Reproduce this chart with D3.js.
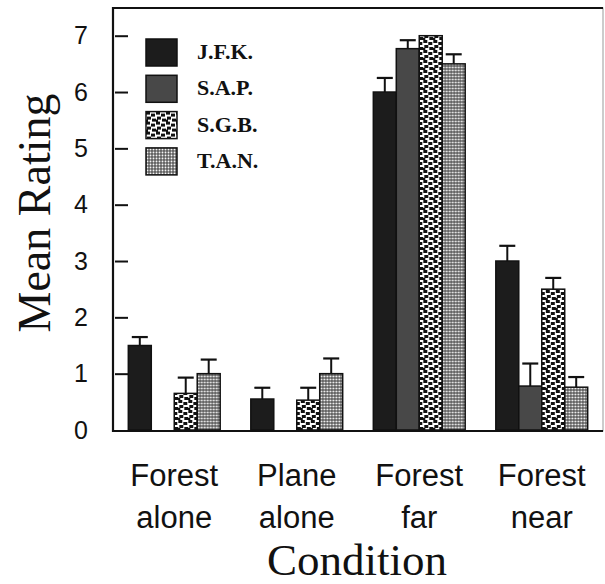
<!DOCTYPE html>
<html>
<head>
<meta charset="utf-8">
<script src="https://cdn.jsdelivr.net/npm/d3@7"></script>
<style>
  body { margin: 0; background: #fff; }
</style>
</head>
<body>
<script>
// data
let conditions = [['Forest', 'alone'], ['Plane', 'alone'], ['Forest', 'far'], ['Forest', 'near']];
let observers = ['J.F.K.', 'S.A.P.', 'S.G.B.', 'T.A.N.'];
let means = {
  'J.F.K.': [1.5, 0.55, 6.0, 3.0],
  'S.A.P.': [0, 0, 6.77, 0.78],
  'S.G.B.': [0.65, 0.53, 7.0, 2.5],
  'T.A.N.': [1.0, 1.0, 6.5, 0.76]
};
let errors = {
  'J.F.K.': [0.15, 0.2, 0.25, 0.27],
  'S.A.P.': [0, 0, 0.15, 0.4],
  'S.G.B.': [0.28, 0.22, 0, 0.2],
  'T.A.N.': [0.25, 0.27, 0.17, 0.18]
};
let yticks = [0, 1, 2, 3, 4, 5, 6, 7];

let width = 605, height = 584;
let margin = { top: 8, right: 2, bottom: 153, left: 113 };

let svg = d3.select('body').append('svg')
  .attr('width', width)
  .attr('height', height);

// hatch-like fills
let defs = svg.append('defs');
let p1 = defs.append('pattern').attr('id', 'sgb')
  .attr('patternUnits', 'userSpaceOnUse').attr('width', 10).attr('height', 10);
p1.append('rect').attr('width', 10).attr('height', 10).attr('fill', '#fff');
[[0, 0, 4, 3], [5, 2, 4, 3], [1, 5, 4, 3], [6, 7, 4, 3], [0, 8, 2, 2]].forEach(r => {
  p1.append('rect').attr('x', r[0]).attr('y', r[1]).attr('width', r[2]).attr('height', r[3]).attr('fill', '#111');
});
let p2 = defs.append('pattern').attr('id', 'tan')
  .attr('patternUnits', 'userSpaceOnUse').attr('width', 3).attr('height', 3);
p2.append('rect').attr('width', 3).attr('height', 3).attr('fill', '#333');
p2.append('rect').attr('x', 0.5).attr('y', 0.5).attr('width', 2).attr('height', 2).attr('fill', '#fff');

let fills = {
  'J.F.K.': '#1c1c1c',
  'S.A.P.': '#484848',
  'S.G.B.': 'url(#sgb)',
  'T.A.N.': 'url(#tan)'
};

let x0 = d3.scaleBand()
  .domain(conditions.map(c => c.join(' ')))
  .range([margin.left, width - margin.right])
  .paddingInner(0.25)
  .paddingOuter(0.125);

let x1 = d3.scaleBand()
  .domain(observers)
  .range([0, x0.bandwidth()]);

let y = d3.scaleLinear()
  .domain([0, 7])
  .range([430, 35.7]);

// frame
svg.append('rect')
  .attr('x', margin.left).attr('y', margin.top)
  .attr('width', width - margin.right - margin.left)
  .attr('height', y(0) + 1 - margin.top)
  .attr('fill', 'none').attr('stroke', '#999').attr('stroke-width', 1);
svg.append('path')
  .attr('d', `M${width - margin.right},${margin.top}H${margin.left}V${y(0) + 1}H${width - margin.right}`)
  .attr('fill', 'none').attr('stroke', '#111').attr('stroke-width', 2.2);

// inner tick marks
let tickAxis = svg.append('g')
  .attr('transform', `translate(${margin.left + 2},0)`)
  .call(d3.axisRight(y).tickValues(yticks.slice(1)).tickSize(13).tickFormat(''));
tickAxis.select('.domain').remove();
tickAxis.selectAll('line').attr('stroke', '#111').attr('stroke-width', 2);

// tick labels
let labelAxis = svg.append('g')
  .attr('transform', `translate(${margin.left},0)`)
  .call(d3.axisLeft(y).tickValues(yticks).tickSize(0).tickPadding(25).tickFormat(d3.format('d')));
labelAxis.select('.domain').remove();
labelAxis.selectAll('text')
  .attr('font-family', 'Liberation Sans, Arial, sans-serif')
  .attr('font-size', 25)
  .attr('fill', '#111');

// bars
let groups = svg.append('g').selectAll('g')
  .data(conditions)
  .join('g')
  .attr('transform', c => `translate(${x0(c.join(' '))},0)`);

observers.forEach(o => {
  let rows = conditions.map((c, i) => ({ o: o, v: means[o][i], e: errors[o][i] }));
  groups.data(rows).each(function (d) {
    if (d.v <= 0) return;
    let g = d3.select(this);
    let cx = x1(d.o) + x1.bandwidth() / 2;
    if (d.e > 0) {
      g.append('line')
        .attr('x1', cx).attr('x2', cx)
        .attr('y1', y(d.v)).attr('y2', y(d.v + d.e))
        .attr('stroke', '#111').attr('stroke-width', 2);
      g.append('line')
        .attr('x1', cx - 8).attr('x2', cx + 8)
        .attr('y1', y(d.v + d.e)).attr('y2', y(d.v + d.e))
        .attr('stroke', '#111').attr('stroke-width', 2.2);
    }
    g.append('rect')
      .attr('x', x1(d.o))
      .attr('y', y(d.v))
      .attr('width', x1.bandwidth())
      .attr('height', y(0) - y(d.v))
      .attr('fill', fills[d.o])
      .attr('stroke', '#111')
      .attr('stroke-width', 1.5);
  });
});

// category labels
svg.append('g').selectAll('text')
  .data(conditions)
  .join('text')
  .attr('x', c => x0(c.join(' ')) + x0.bandwidth() / 2)
  .attr('y', 486)
  .attr('text-anchor', 'middle')
  .attr('font-family', 'Liberation Sans, Arial, sans-serif')
  .attr('font-size', 31)
  .attr('fill', '#111')
  .each(function (c) {
    let t = d3.select(this);
    t.append('tspan').attr('x', t.attr('x')).text(c[0]);
    t.append('tspan').attr('x', t.attr('x')).attr('dy', 42).text(c[1]);
  });

// legend
let legend = svg.append('g').selectAll('g')
  .data(observers)
  .join('g')
  .attr('transform', (d, i) => `translate(146,${39 + i * 36.3})`);
legend.append('rect')
  .attr('width', 31).attr('height', 27)
  .attr('fill', d => fills[d])
  .attr('stroke', '#111').attr('stroke-width', 1.5);
legend.append('text')
  .attr('x', 51).attr('y', 20)
  .attr('font-family', 'Liberation Serif, Times New Roman, serif')
  .attr('font-weight', 'bold')
  .attr('font-size', 22)
  .attr('fill', '#111')
  .text(d => d);

// axis titles
svg.append('text')
  .text('Condition')
  .attr('x', 357)
  .attr('y', 575)
  .attr('text-anchor', 'middle')
  .attr('font-family', 'Liberation Serif, Times New Roman, serif')
  .attr('font-size', 45)
  .attr('fill', '#111');

svg.append('text')
  .text('Mean Rating')
  .attr('x', -213)
  .attr('y', 50)
  .attr('transform', 'rotate(-90)')
  .attr('text-anchor', 'middle')
  .attr('font-family', 'Liberation Serif, Times New Roman, serif')
  .attr('font-size', 46)
  .attr('fill', '#111');
</script>
</body>
</html>
